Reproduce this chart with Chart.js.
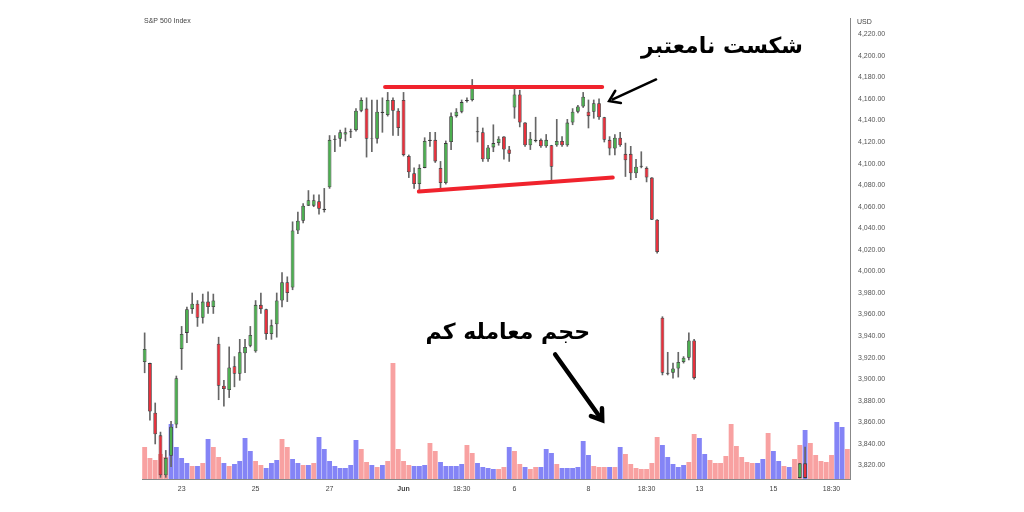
<!DOCTYPE html>
<html>
<head>
<meta charset="utf-8">
<script src="https://cdn.jsdelivr.net/npm/chart.js@4/dist/chart.umd.min.js"></script>
<style>
    html, body { margin: 0; padding: 0; background: #fff; }
    #wrap { width: 1024px; height: 512px; position: relative; }
</style>
</head>
<body>
<div id="wrap"><canvas id="chart" width="1024" height="512"></canvas></div>
<script>
// velas (precio), una por barra de volumen
const aperturas = [3916,3915,3869,3848,3811,3829,3858,3928,3943,3965,3970,3957,3972,3967,3933,3894,3890,3912,3905,3924,
    3931,3926,3969,3965,3942,3951,3973,3990,3985,4038,4047,4061,4061,4065,4058,4078,4122,4123,4127,4129,
    4131,4149,4151,4123,4123,4148,4145,4159,4149,4159,4107,4091,4081,4096,4122,4122,4096,4082,4120,4144,
    4148,4158,4159,4130,4129,4104,4115,4119,4125,4113,4152,4164,4138,4117,4122,4122,4116,4117,4117,4121,
    4117,4138,4148,4153,4148,4148,4156,4143,4122,4114,4124,4109,4109,4091,4098,4096,4087,4048,3957,3906,
    3906,3910,3916,3920,3936];
const maximos = [3943,3915,3878,3851,3834,3861,3903,3949,3967,3980,3973,3979,3981,3979,3939,3899,3930,3921,3937,3937,
    3949,3973,3980,3965,3955,3980,3999,3995,4046,4055,4063,4075,4071,4071,4077,4126,4126,4131,4133,4132,
    4151,4161,4161,4159,4159,4161,4166,4161,4151,4166,4108,4096,4099,4124,4129,4129,4102,4121,4147,4151,
    4159,4161,4178,4143,4133,4117,4136,4125,4125,4116,4169,4168,4138,4129,4143,4123,4127,4117,4141,4125,
    4141,4151,4154,4166,4159,4159,4160,4143,4125,4127,4129,4119,4116,4104,4111,4097,4087,4048,3958,3925,
    3915,3925,3921,3943,3937];
const minimos = [3906,3862,3840,3809,3809,3819,3855,3909,3934,3961,3949,3952,3961,3961,3881,3875,3883,3893,3899,3906,
    3930,3925,3961,3937,3937,3939,3967,3972,3983,4035,4045,4061,4060,4053,4055,4077,4111,4116,4121,4124,
    4130,4148,4106,4111,4119,4129,4144,4126,4126,4107,4087,4077,4075,4096,4116,4101,4077,4081,4113,4143,
    4147,4157,4158,4120,4102,4102,4111,4117,4104,4102,4142,4134,4116,4113,4120,4115,4115,4085,4116,4116,
    4116,4136,4147,4152,4133,4142,4141,4120,4108,4108,4116,4088,4085,4087,4096,4083,4048,4017,3904,3904,
    3901,3902,3915,3918,3900];
const cierres = [3928,3870,3849,3811,3827,3856,3901,3942,3965,3970,3957,3972,3967,3973,3894,3891,3911,3905,3925,3930,
    3941,3969,3965,3942,3950,3973,3990,3980,4038,4047,4061,4066,4066,4058,4057,4122,4123,4129,4129,4130,
    4149,4159,4123,4123,4148,4147,4159,4149,4133,4108,4092,4081,4096,4121,4121,4102,4082,4119,4144,4148,
    4157,4159,4171,4129,4104,4115,4119,4123,4113,4109,4164,4138,4117,4123,4121,4116,4122,4097,4121,4117,
    4138,4148,4153,4162,4144,4156,4143,4122,4114,4124,4117,4103,4091,4097,4097,4087,4048,4018,3906,3905,
    3910,3916,3920,3936,3901];

// dos velas sueltas abajo a la derecha
const velasSueltasIdx = [124, 125];
const velasSueltas = [[3808.5, 3822, 3808.5, 3822], [3822, 3837, 3808.5, 3808.5]]; // O, H, L, C

// volumen (altura relativa) y si fue vela bajista (rosa) o alcista (azul)
const volumen = [32,21,19,25,22,55,32,21,16,13,13,16,40,32,22,16,13,15,18,41,
    28,18,14,11,16,19,40,32,20,16,14,14,16,42,30,18,13,11,11,14,
    39,30,17,14,12,14,18,116,30,18,14,13,13,14,36,28,17,13,13,13,
    15,34,26,16,12,11,10,10,12,32,28,15,12,10,12,12,30,26,15,11,
    11,11,12,38,24,13,12,12,12,12,32,25,15,11,10,10,16,42,34,22,
    15,12,14,17,45,41,25,19,16,16,23,55,33,22,17,16,16,20,46,28,
    18,13,12,20,34,49,36,24,18,17,24,57,52,30];
const volumenTipo = 'pppppbbbbpbpbppbpbbbbppbbbppbbpbpbbbbbbbbppbpbpppppbbbppbbbbbppbbbbppbppbppbbbpbbbbbbpppbpbpppppppbbbbbppbbpppppppppbbpbbpbppbpppppbbpp';

// etiquetas del eje x
const etiquetasX = { 7: '23', 21: '25', 35: '27', 49: 'Jun', 60: '18:30', 70: '6', 84: '8', 95: '18:30', 105: '13', 119: '15', 130: '18:30' };

// lineas de tendencia dibujadas a mano (indice, precio)
const lineaResistencia = [[45.5, 4171], [86.6, 4171]];
const lineaSoporte = [[51.9, 4074], [88.6, 4087]];
const flechaRuptura = [[96.8, 4178], [87.9, 4158]];
const flechaVolumen = [[77.7, 3923], [86.6, 3862]];

const VERDE = '#4caf50';
const ROJO = '#e8303c';
const N = volumen.length;

const etiquetas = [];
const cuerpos = [];
const mechas = [];
const coloresVela = [];
for (let i = 0; i < N; i++) {
    etiquetas.push(etiquetasX[i] || '');
    let o = null, h = null, l = null, c = null;
    if (i < aperturas.length) {
        o = aperturas[i]; h = maximos[i]; l = minimos[i]; c = cierres[i];
    } else {
        const k = velasSueltasIdx.indexOf(i);
        if (k >= 0) [o, h, l, c] = velasSueltas[k];
    }
    if (o === null) {
        cuerpos.push(null); mechas.push(null); coloresVela.push(VERDE);
        continue;
    }
    const lo = Math.min(o, c), hi = Math.max(o, c);
    cuerpos.push([lo, hi - lo < 0.6 ? lo + 0.6 : hi]);
    mechas.push([l, h]);
    coloresVela.push(c >= o ? VERDE : ROJO);
}

const coloresVolumen = volumen.map((_, i) => volumenTipo[i] === 'b' ? 'rgba(110,110,245,0.85)' : 'rgba(245,130,130,0.75)');

function puntoEnPantalla(chart, par) {
    return {
        x: chart.scales.x.getPixelForValue(par[0]),
        y: chart.scales.y.getPixelForValue(par[1])
    };
}

const anotaciones = {
    id: 'anotaciones',
    afterDatasetsDraw(chart) {
        const ctx = chart.ctx;
        ctx.save();
        // lineas rojas
        ctx.strokeStyle = '#f0232d';
        ctx.lineWidth = 4;
        ctx.lineCap = 'round';
        [lineaResistencia, lineaSoporte].forEach(linea => {
            const a = puntoEnPantalla(chart, linea[0]);
            const b = puntoEnPantalla(chart, linea[1]);
            ctx.beginPath();
            ctx.moveTo(a.x, a.y);
            ctx.lineTo(b.x, b.y);
            ctx.stroke();
        });
        // flechas
        ctx.strokeStyle = '#000';
        ctx.fillStyle = '#000';
        [[flechaRuptura, 2.5], [flechaVolumen, 4.5]].forEach(([flecha, ancho]) => {
            const a = puntoEnPantalla(chart, flecha[0]);
            const b = puntoEnPantalla(chart, flecha[1]);
            const ang = Math.atan2(b.y - a.y, b.x - a.x);
            ctx.lineWidth = ancho;
            ctx.beginPath();
            ctx.moveTo(a.x, a.y);
            ctx.lineTo(b.x - Math.cos(ang) * 4, b.y - Math.sin(ang) * 4);
            ctx.stroke();
            ctx.lineWidth = ancho;
            ctx.lineJoin = 'miter';
            ctx.beginPath();
            const largo = 12;
            ctx.moveTo(b.x - largo * Math.cos(ang - 0.6), b.y - largo * Math.sin(ang - 0.6));
            ctx.lineTo(b.x, b.y);
            ctx.lineTo(b.x - largo * Math.cos(ang + 0.6), b.y - largo * Math.sin(ang + 0.6));
            ctx.stroke();
        });
        // textos
        ctx.font = 'bold 22px "DejaVu Sans"';
        ctx.direction = 'rtl';
        ctx.textAlign = 'right';
        ctx.textBaseline = 'middle';
        ctx.fillText('شکست نامعتبر', 803, 47);
        ctx.fillText('حجم معامله کم', 590, 333);
        ctx.direction = 'ltr';
        ctx.textAlign = 'left';
        ctx.font = '7px "Liberation Sans"';
        ctx.fillStyle = '#444';
        ctx.fillText('S&P 500 Index', 144, 21);
        ctx.fillText('USD', 857, 22);
        ctx.restore();
    }
};

new Chart(document.getElementById('chart'), {
    type: 'bar',
    data: {
        labels: etiquetas,
        datasets: [
            {
                label: 'cuerpos',
                data: cuerpos,
                backgroundColor: coloresVela,
                borderColor: '#3a3a3a',
                borderWidth: 0.8,
                borderSkipped: false,
                barPercentage: 0.72,
                categoryPercentage: 1,
                grouped: false,
                yAxisID: 'y',
                order: 1
            },
            {
                label: 'mechas',
                data: mechas,
                backgroundColor: '#666',
                barThickness: 1,
                grouped: false,
                yAxisID: 'y',
                order: 2
            },
            {
                label: 'volumen',
                data: volumen,
                backgroundColor: coloresVolumen,
                barPercentage: 0.92,
                categoryPercentage: 1,
                grouped: false,
                yAxisID: 'vol',
                order: 3
            }
        ]
    },
    options: {
        responsive: false,
        animation: false,
        layout: { padding: { left: 142, right: 110, top: 18, bottom: 12 } },
        plugins: { legend: { display: false }, tooltip: { enabled: false } },
        scales: {
            x: {
                grid: { display: false, drawTicks: false },
                border: { color: '#888' },
                ticks: {
                    autoSkip: false,
                    maxRotation: 0,
                    padding: 6,
                    color: '#444',
                    font: (ctx) => ({ family: 'Liberation Sans', size: 7, weight: etiquetas[ctx.index] === 'Jun' ? 'bold' : 'normal' }),
                    callback: (v, i) => etiquetas[i]
                },
                afterFit(axis) { axis.height = 21; }
            },
            y: {
                position: 'right',
                min: 3807.5,
                max: 4235,
                grid: { display: false, drawTicks: false },
                border: { color: '#888' },
                afterBuildTicks(axis) {
                    axis.ticks = axis.ticks.filter(t => t.value % 20 === 0);
                },
                ticks: {
                    stepSize: 20,
                    padding: 8,
                    color: '#555',
                    font: { family: 'Liberation Sans', size: 7 },
                    callback: v => v.toLocaleString('en-US', { minimumFractionDigits: 2, maximumFractionDigits: 2 })
                },
                afterFit(axis) { axis.width = 64; }
            },
            vol: {
                display: false,
                min: 0,
                max: 461
            }
        }
    },
    plugins: [anotaciones]
});
</script>
</body>
</html>
